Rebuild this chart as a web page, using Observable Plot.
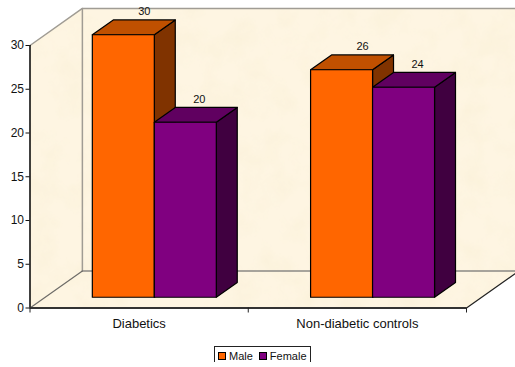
<!DOCTYPE html>
<html>
<head>
<meta charset="utf-8">
<script src="https://cdn.jsdelivr.net/npm/d3@7"></script>
<script src="https://cdn.jsdelivr.net/npm/@observablehq/plot@0.6"></script>
<style>
  html, body { margin: 0; padding: 0; background: #fff; overflow: hidden; }
  #chart svg { display: block; }
  #legend {
    box-sizing: border-box; width: 97px; height: 16px; margin: 2px 0 0 214px;
    border: 1px solid #222; border-bottom: none; background: #fff;
    font: 11px "Liberation Sans", Arial, sans-serif; color: #111;
    display: flex; align-items: center; padding: 2px 0 0 3px; white-space: nowrap;
  }
  #legend i { display: inline-block; box-sizing: border-box; width: 8px; height: 8px; border: 1px solid #000; margin-right: 3px; }
  #legend span { margin-right: 6px; display: inline-flex; align-items: center; }
</style>
</head>
<body>
<div id="chart"></div>
<div id="legend"></div>
<script>
// Patient counts by group and sex
const categories = ["Diabetics", "Non-diabetic controls"];
const seriesNames = ["Male", "Female"];
const male = [30, 26];
const female = [20, 24];
const yTicks = [0, 5, 10, 15, 20, 25, 30];

const faceColors = {
  Male: { front: "#ff6600", top: "#c05000", side: "#803300" },
  Female: { front: "#800080", top: "#600060", side: "#400040" }
};

// Oblique box geometry, in scale units: a depth d in [0, 1] moves a point
// towards the back wall of the chart.
const floorU = 0.24, floorV = 4.23;
const project = (u, v, d) => ({ u: u + d * floorU, v: v + d * floorV });
const barFront = 0.29, barBack = 0.69;
const groupInset = 0.216, barWidth = 0.284;

const poly = (points, options) =>
  Plot.line(points.map(([u, v, d]) => project(u, v, d)), {
    x: "u", y: "v", curve: "linear-closed", ...options
  });

// One bar drawn back to front: side, top, then the face towards the viewer
function barFaces(u0, value, colors) {
  const u1 = u0 + barWidth;
  const edge = { stroke: "#000", strokeWidth: 1.2, strokeLinejoin: "round" };
  return [
    poly([[u1, 0, barFront], [u1, 0, barBack], [u1, value, barBack], [u1, value, barFront]], { fill: colors.side, ...edge }),
    poly([[u0, value, barFront], [u0, value, barBack], [u1, value, barBack], [u1, value, barFront]], { fill: colors.top, ...edge }),
    poly([[u0, 0, barFront], [u1, 0, barFront], [u1, value, barFront], [u0, value, barFront]], { fill: colors.front, ...edge })
  ];
}

// Parchment fill shared by the walls and the floor
const parchment = () => {
  const defs = d3.create("svg:defs");
  const filter = defs.append("filter").attr("id", "mottle")
    .attr("x", 0).attr("y", 0).attr("width", "100%").attr("height", "100%");
  filter.append("feTurbulence").attr("type", "fractalNoise")
    .attr("baseFrequency", 0.035).attr("numOctaves", 3).attr("seed", 7);
  filter.append("feColorMatrix").attr("type", "matrix")
    .attr("values", "0 0 0 0 0.93  0 0 0 0 0.84  0 0 0 0 0.62  0 0 0 1.6 -0.62");
  const pattern = defs.append("pattern").attr("id", "parchment")
    .attr("patternUnits", "userSpaceOnUse").attr("width", 515).attr("height", 367);
  pattern.append("rect").attr("width", 515).attr("height", 367).attr("fill", "#fef5e2");
  pattern.append("rect").attr("width", 515).attr("height", 367).attr("filter", "url(#mottle)").attr("opacity", 0.45);
  return defs.node();
};

const groupCount = categories.length;
const maxTick = yTicks[yTicks.length - 1];

const wallEdge = (points, stroke, strokeWidth) =>
  Plot.line(points.map(([u, v, d]) => project(u, v, d)), { x: "u", y: "v", stroke, strokeWidth });

const chart = Plot.plot({
  width: 515,
  height: 344,
  marginLeft: 29.5,
  marginRight: 49,
  marginTop: 45,
  marginBottom: 36.5,
  style: { background: "#fff", fontFamily: "'Liberation Sans', Arial, sans-serif" },
  x: { type: "linear", domain: [0, groupCount], axis: null },
  y: { domain: [0, maxTick], axis: null },
  marks: [
    parchment,
    // Left wall, back wall and floor
    poly([[0, 0, 0], [0, maxTick, 0], [0, maxTick, 1], [0, 0, 1]], { fill: "url(#parchment)" }),
    poly([[0, 0, 1], [0, maxTick, 1], [groupCount, maxTick, 1], [groupCount, 0, 1]], { fill: "url(#parchment)" }),
    poly([[0, 0, 0], [0, 0, 1], [groupCount, 0, 1], [groupCount, 0, 0]], { fill: "url(#parchment)" }),
    wallEdge([[0, maxTick, 0], [0, maxTick, 1], [groupCount, maxTick, 1]], "#a09c94", 1.5),
    wallEdge([[0, 0, 1], [0, maxTick, 1]], "#a09c94", 1.5),
    wallEdge([[0, 0, 1], [groupCount, 0, 1]], "#8a8884", 1.5),
    wallEdge([[0, 0, 0], [0, 0, 1]], "#6e6c68", 1.2),
    wallEdge([[groupCount, 0, 0], [groupCount, 0, 1]], "#222", 1.2),
    // Bars
    ...categories.flatMap((c, i) => [
      ...barFaces(i + groupInset, male[i], faceColors.Male),
      ...barFaces(i + groupInset + barWidth, female[i], faceColors.Female)
    ]),
    // Axes
    Plot.ruleX([0], { y1: 0, y2: maxTick, stroke: "#000", strokeWidth: 1.5 }),
    Plot.ruleY([0], { x1: 0, x2: groupCount, stroke: "#333", strokeWidth: 2 }),
    Plot.axisY({ ticks: yTicks, label: null, tickSize: 4, tickPadding: 2, fontSize: 12, color: "#111", tickFormat: d3.format("d") }),
    Plot.axisX({ ticks: d3.range(groupCount + 1), label: null, tickSize: 5, tickFormat: () => "", color: "#222" }),
    Plot.text(categories, { x: (d, i) => i + 0.5, y: () => 0, dy: 16, text: d => d, fontSize: 13, fill: "#111" }),
    // Value labels above each bar
    Plot.text(male, {
      x: (d, i) => project(i + groupInset + barWidth / 2, d, barBack).u,
      y: (d) => project(0, d, barBack).v,
      text: d => d, dy: -8, fontSize: 11, fill: "#111"
    }),
    Plot.text(female, {
      x: (d, i) => project(i + groupInset + barWidth * 1.5, d, barBack).u,
      y: (d) => project(0, d, barBack).v,
      text: d => d, dy: -8, dx: -7, fontSize: 11, fill: "#111"
    })
  ]
});
document.getElementById("chart").append(chart);

// Legend strip under the plot
const legend = d3.select("#legend");
seriesNames.forEach(name => {
  const item = legend.append("span");
  item.append("i").style("background", faceColors[name].front);
  item.append("b").style("font-weight", "normal").text(name);
});
</script>
</body>
</html>
